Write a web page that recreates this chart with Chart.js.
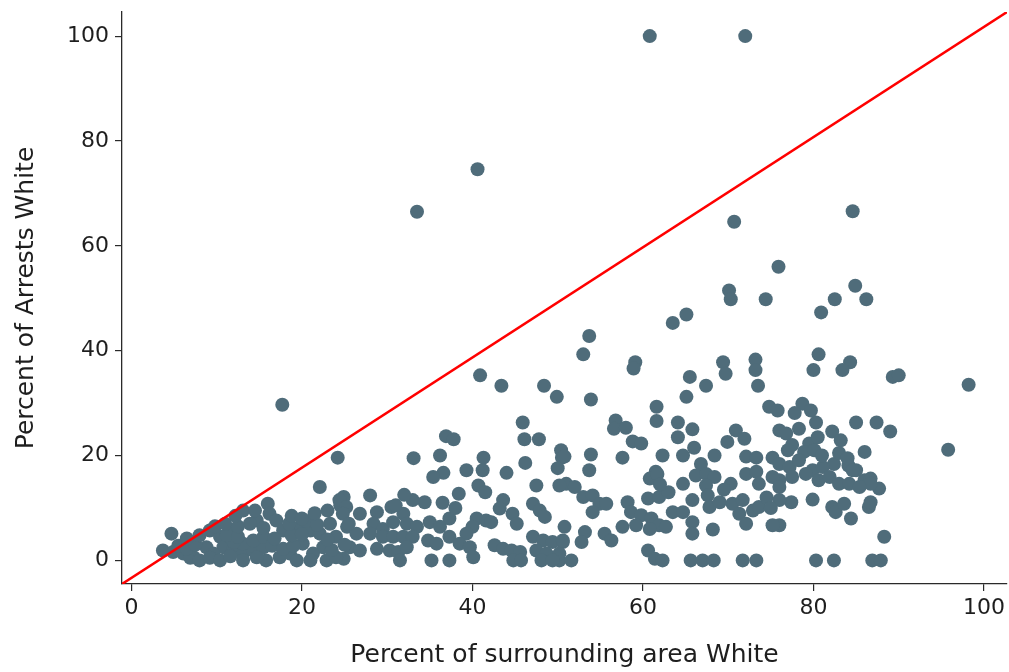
<!DOCTYPE html>
<html>
<head>
<meta charset="utf-8">
<script src="https://cdn.jsdelivr.net/npm/chart.js@4/dist/chart.umd.min.js"></script>
<style>
  html, body { margin: 0; padding: 0; background: #ffffff; }
  #wrap { width: 1009px; height: 672px; position: relative; }
</style>
</head>
<body>
<div id="wrap"><canvas id="c" width="1009" height="672"></canvas></div>
<script>
// Axis settings
const xLabel = "Percent of surrounding area White";
const yLabel = "Percent of Arrests White";
const xTicks = [0, 20, 40, 60, 80, 100];
const yTicks = [0, 20, 40, 60, 80, 100];
const xLimits = [-1.1, 102.7];
const yLimits = [-4.5, 104.6];

// Scatter points: percent of surrounding area White (x) vs percent of arrests White (y)
const areaWhite = [
  60.8, 72.0, 40.6, 33.5, 70.7, 84.6, 75.9, 70.1, 70.3, 74.4, 84.9, 86.2, 82.5, 80.9, 65.1, 63.5, 53.7, 53.0,
  59.1, 58.9, 69.4, 69.7, 73.2, 73.2, 80.6, 80.0, 84.3, 83.4, 65.5, 89.3, 90.0, 98.2, 40.9, 17.7, 24.2,
  43.4, 48.4, 49.9, 45.9, 46.1, 47.8, 36.9, 37.8, 36.2, 33.1, 41.3, 46.2, 50.4, 50.5, 50.0, 44.0, 39.3, 41.2, 36.6, 35.4,
  67.4, 73.5, 65.1, 53.9, 61.6, 61.6, 56.8, 56.6, 58.0, 64.1, 64.1, 65.8, 58.8, 59.8, 74.8, 75.8, 76.0, 70.9, 71.9, 69.9,
  50.8, 53.9, 53.7, 57.6, 62.3, 64.7, 66.0, 68.4, 66.8, 72.1, 73.3, 75.2, 61.5,
  78.7, 79.7, 77.8, 80.3, 85.0, 87.4, 89.0, 82.2, 83.2, 78.3, 76.8, 79.5, 78.9, 80.1, 86.0, 95.8,
  82.4, 84.1, 85.0, 76.0, 77.2, 78.3, 79.9, 81.1, 86.0, 86.7, 77.5, 81.0, 83.0, 84.0, 80.5, 77.0,
  88.3, 80.3, 82.4, 86.9, 87.9, 84.4, 86.5, 86.7, 82.2, 82.6, 83.6, 79.9, 77.4, 76.0, 87.7, 86.7, 84.6, 76.0,
  76.0, 77.5, 79.1, 80.6, 81.9, 83.0, 84.2, 85.4,
  60.8, 61.7, 64.7, 66.2, 67.4, 68.4, 67.4, 70.3, 72.1, 73.3, 75.2, 76.0, 73.6, 51.0, 52.0, 53.0, 54.1, 54.9,
  55.7, 54.1, 50.2, 58.2, 58.6, 59.8, 61.0, 61.9, 62.7, 63.5, 64.7, 65.8, 60.6, 61.9, 57.6, 59.2, 60.8, 65.8,
  65.8, 68.2, 67.6, 67.8, 69.0, 70.5, 71.3, 72.1, 72.9, 73.6, 71.7, 75.2, 50.8, 50.6, 53.2, 52.8, 55.5, 56.3,
  60.6, 61.4, 62.3, 50.2, 51.6, 65.6, 67.0, 68.3, 71.7, 73.3, 74.5, 75.0, 69.5, 63.0, 62.0,
  40.7, 41.5, 47.5, 38.4, 34.4, 43.6, 43.2, 47.1, 47.9, 48.5, 44.7, 45.2, 24.9, 24.5, 26.8, 28.8, 30.5, 31.9,
  35.0, 37.3, 36.2, 40.5, 40.0, 39.3, 41.6, 42.2, 28.4, 29.5, 30.7, 32.3, 33.5, 25.3, 26.4, 28.0, 29.5, 30.7,
  31.9, 33.0, 25.6, 26.8, 28.8, 30.3, 31.3, 32.3, 24.9, 31.5, 35.2, 37.3, 34.8, 35.8, 37.3, 38.5, 39.7, 40.1,
  42.6, 43.6, 44.6, 45.6, 44.8, 45.7, 47.1, 48.3, 49.4, 47.5, 48.7, 50.2, 48.1, 49.4, 50.6,
  28.0, 31.0, 33.0, 36.5, 38.0, 32.0,
  22.1, 4.7, 3.7, 4.9, 6.1, 7.3, 16.0, 16.2, 14.7, 17.0, 17.8, 11.9, 13.1, 13.9, 9.2, 10.4, 24.4, 25.2, 24.8,
  19.8, 21.0, 22.1, 23.3, 24.0, 22.5, 20.1, 21.3, 18.6, 19.4, 21.0, 22.9, 24.0, 17.4, 15.8, 10.8, 11.9, 13.1,
  14.3, 15.5, 8.8, 9.6, 13.1, 14.3, 15.5,
  6.9, 8.0, 9.2, 10.4, 11.6, 13.1, 14.7,
  5.5, 6.5, 7.5, 12.0, 16.5, 17.8, 19.0, 23.5, 25.0,
  6.5, 8.0, 11.2, 12.5, 16.8, 18.8, 20.0, 23.0,
  9.8, 11.0, 12.5, 15.5, 18.5, 20.5, 21.8, 25.5,
  12.2, 14.5, 18.8, 20.0, 21.5, 23.0
];
const arrestsWhite = [
  100, 100, 74.6, 66.5, 64.6, 66.6, 56.0, 51.5, 49.8, 49.8, 52.4, 49.8, 49.8, 47.3, 46.9, 45.3, 42.8, 39.3,
  37.8, 36.6, 37.8, 35.6, 38.3, 36.3, 39.3, 36.3, 37.8, 36.3, 35.0, 35.0, 35.3, 33.5, 35.3, 29.7, 19.6,
  33.3, 33.3, 31.2, 26.3, 23.1, 23.1, 23.7, 23.1, 20.0, 19.5, 19.6, 18.6, 21.0, 19.6, 17.6, 16.7, 17.2, 17.2, 16.7, 15.9,
  33.3, 33.3, 31.2, 30.7, 29.3, 26.6, 26.7, 25.1, 25.3, 26.3, 23.5, 25.0, 22.7, 22.3, 29.3, 28.6, 24.8, 24.8, 23.2, 22.6,
  19.8, 20.2, 17.2, 19.6, 20.0, 20.0, 21.5, 20.0, 18.4, 19.8, 19.6, 19.6, 16.9,
  29.9, 28.6, 28.1, 26.3, 26.3, 26.3, 24.6, 24.6, 22.9, 25.1, 24.2, 22.3, 20.7, 21.0, 20.7, 21.1,
  18.4, 18.1, 17.2, 18.4, 17.8, 19.1, 17.2, 17.8, 15.3, 15.6, 22.0, 20.0, 20.5, 19.5, 23.5, 21.0,
  4.5, 0, 0, 0, 0, 8.0, 10.2, 11.1, 10.2, 9.2, 10.8, 11.6, 11.1, 11.5, 13.7, 14.6, 17.2, 6.7,
  15.3, 15.9, 16.5, 15.3, 15.9, 14.6, 14.6, 14.0,
  15.6, 16.5, 14.6, 16.2, 16.5, 15.9, 14.3, 14.6, 16.5, 16.9, 15.9, 14.0, 14.6, 14.6, 14.0, 12.1, 12.4, 10.8,
  10.8, 9.2, 14.3, 11.1, 9.2, 8.6, 8.0, 6.7, 6.4, 9.2, 9.2, 11.5, 11.8, 12.1, 6.4, 6.7, 6.0, 7.3,
  5.1, 5.9, 12.4, 10.2, 11.1, 10.8, 8.9, 7.0, 9.5, 10.2, 11.5, 6.7, 6.4, 3.5, 5.4, 3.5, 5.1, 3.8,
  1.9, 0.3, 0, 0, 0, 0, 0, 0, 0, 0, 12.0, 10.0, 13.5, 13.0, 14.5,
  14.3, 13.0, 14.3, 12.7, 11.1, 11.5, 9.9, 10.8, 9.5, 8.3, 8.9, 7.0, 12.1, 10.5, 8.9, 9.2, 10.2, 8.9,
  7.3, 8.0, 6.4, 8.0, 6.4, 5.1, 7.6, 7.3, 7.0, 6.0, 7.3, 7.0, 6.4, 6.4, 5.1, 5.1, 4.5, 4.5,
  4.5, 4.5, 2.5, 1.9, 2.2, 1.9, 1.6, 2.5, 0.3, 0, 0, 0, 3.8, 3.2, 4.5, 3.2, 2.5, 0.6,
  2.9, 2.2, 1.9, 1.6, 0, 0, 4.5, 3.8, 3.5, 1.9, 1.3, 1.3, 0, 0, 3.8,
  12.4, 10.5, 11.5, 11.0, 10.0, 12.5,
  14.0, 5.1, 1.9, 1.6, 1.3, 0.6, 10.8, 8.9, 7.6, 7.6, 5.7, 5.7, 9.5, 7.0, 5.7, 4.5, 11.5, 10.2, 8.9,
  6.4, 5.7, 5.1, 7.0, 4.5, 2.5, 3.2, 1.3, 1.3, 0, 0, 0, 0.6, 0.6, 0, 2.5, 1.9, 1.3,
  1.9, 2.5, 2.5, 1.3, 3.2, 3.8, 4.5,
  0.5, 0, 0.5, 0, 0.8, 0, 0.6,
  2.8, 2.2, 3.0, 3.5, 2.8, 2.2, 2.8, 2.0, 3.0,
  4.2, 4.8, 4.8, 4.5, 4.2, 4.8, 5.0, 4.0,
  6.5, 7.0, 6.5, 6.2, 7.0, 7.5, 6.8, 7.0,
  8.5, 9.5, 8.5, 8.0, 9.0, 9.5
];

const points = areaWhite.map((x, i) => ({ x: x, y: arrestsWhite[i] }));
const diagonal = [{ x: xLimits[0], y: yLimits[0] }, { x: xLimits[1], y: yLimits[1] }];

const textColor = '#1e1e1e';
const spineColor = '#2a2a2a';
const fontFamily = "'DejaVu Sans', sans-serif";

new Chart(document.getElementById('c'), {
  type: 'scatter',
  data: {
    datasets: [
      {
        type: 'line',
        data: diagonal,
        borderColor: '#ff0000',
        borderWidth: 2.5,
        pointRadius: 0,
        fill: false,
        order: 0
      },
      {
        data: points,
        backgroundColor: '#4f6c7a',
        borderWidth: 0,
        pointRadius: 7,
        pointHoverRadius: 7,
        order: 1
      }
    ]
  },
  options: {
    responsive: false,
    animation: false,
    layout: { autoPadding: false, padding: { top: 12, right: 2, left: 0, bottom: 0 } },
    plugins: { legend: { display: false }, tooltip: { enabled: false } },
    scales: {
      x: {
        type: 'linear',
        min: xLimits[0],
        max: xLimits[1],
        afterBuildTicks: (s) => { s.ticks = xTicks.map(v => ({ value: v })); },
        afterFit: (s) => { s.height = 88; s.paddingLeft = 0; s.paddingRight = 0; },
        grid: { display: true, drawOnChartArea: false, drawTicks: true, tickLength: 7, color: spineColor, lineWidth: 1.2 },
        border: { display: true, color: spineColor, width: 1.3 },
        ticks: { color: textColor, font: { family: fontFamily, size: 22 }, padding: 4, maxRotation: 0 },
        title: { display: true, text: xLabel, color: textColor, font: { family: fontFamily, size: 25 }, padding: { top: 4, bottom: 2 } }
      },
      y: {
        type: 'linear',
        min: yLimits[0],
        max: yLimits[1],
        afterBuildTicks: (s) => { s.ticks = yTicks.map(v => ({ value: v })); },
        afterFit: (s) => { s.width = 122; s.paddingTop = 0; s.paddingBottom = 0; },
        grid: { display: true, drawOnChartArea: false, drawTicks: true, tickLength: 7, color: spineColor, lineWidth: 1.2 },
        border: { display: true, color: spineColor, width: 1.3 },
        ticks: { color: textColor, font: { family: fontFamily, size: 22 }, padding: 6 },
        title: { display: true, text: yLabel, color: textColor, font: { family: fontFamily, size: 25 }, padding: { top: 11, bottom: 0 } }
      }
    }
  }
});
</script>
</body>
</html>
